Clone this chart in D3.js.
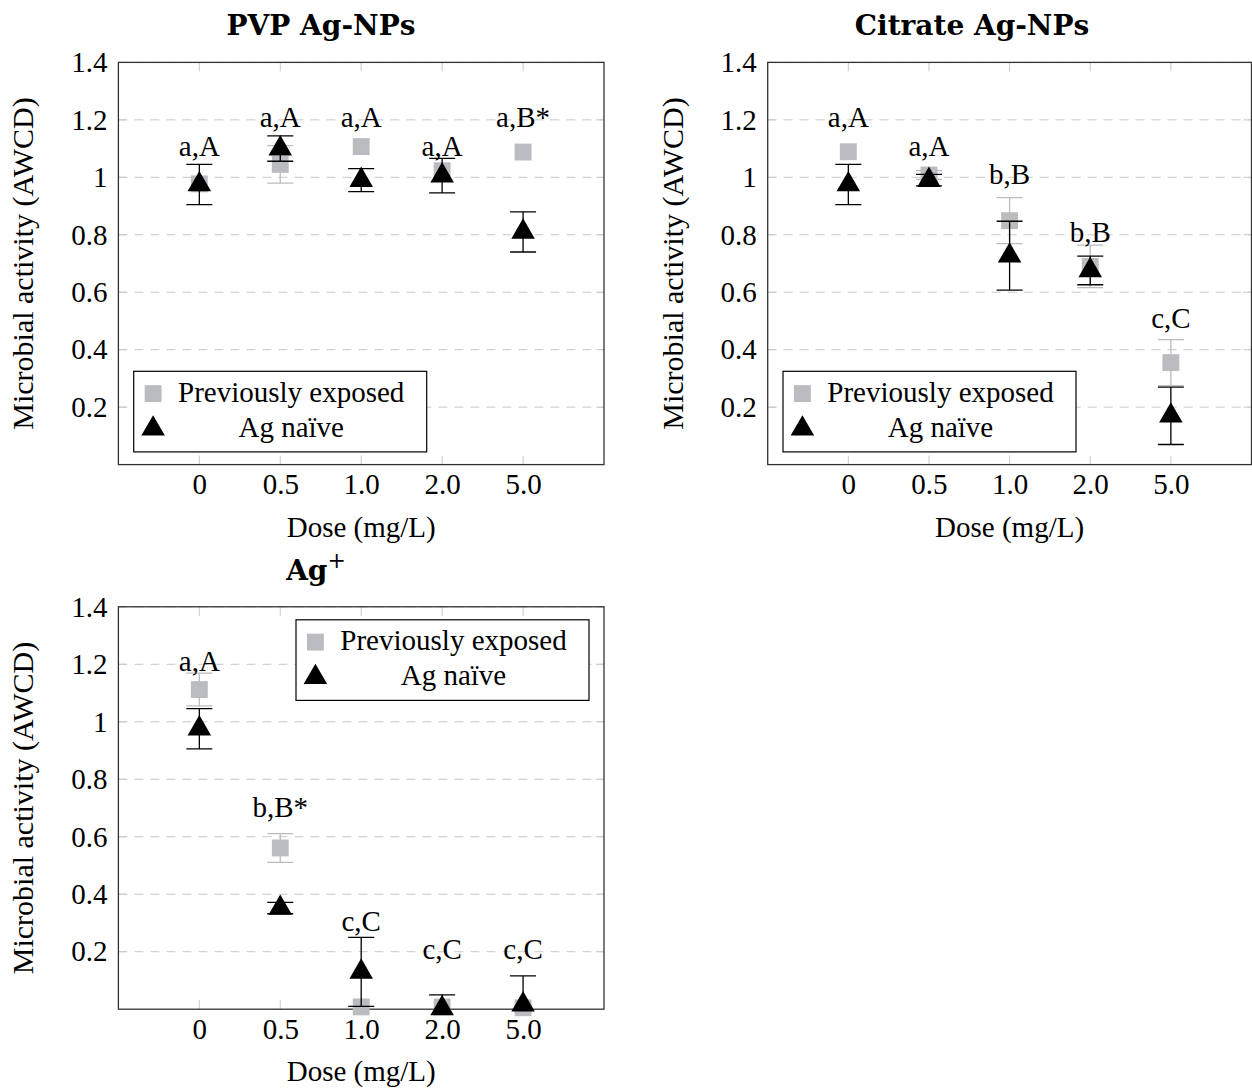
<!DOCTYPE html>
<html>
<head>
<meta charset="utf-8">
<script src="https://cdn.jsdelivr.net/npm/d3@7"></script>
<style>
  html, body { margin: 0; padding: 0; background: #fff; }
  svg { display: block; }
</style>
</head>
<body>
<svg id="chart" width="1252" height="1091"></svg>
<script>
// ---------------- DATA ----------------
const doses = ["0", "0.5", "1.0", "2.0", "5.0"];
const yTicks = [0.2, 0.4, 0.6, 0.8, 1.0, 1.2, 1.4];
const yTickLabels = ["0.2", "0.4", "0.6", "0.8", "1", "1.2", "1.4"];
const seriesNames = ["Previously exposed", "Ag naïve"];

// PVP Ag-NPs
const pvpExposed     = [0.977, 1.045, 1.107, 1.023, 1.088];
const pvpExposedErr  = [0, 0.065, 0, 0, 0];
const pvpNaive       = [0.975, 1.100, 0.990, 1.006, 0.810];
const pvpNaiveErr    = [0.07, 0.044, 0.04, 0.06, 0.07];
const pvpLabels      = ["a,A", "a,A", "a,A", "a,A", "a,B*"];
const pvpLabelY      = [1.075, 1.175, 1.175, 1.075, 1.175];

// Citrate Ag-NPs
const citExposed     = [1.089, 1.008, 0.849, 0.690, 0.355];
const citExposedErr  = [0, 0.015, 0.08, 0.074, 0.08];
const citNaive       = [0.975, 0.990, 0.727, 0.676, 0.170];
const citNaiveErr    = [0.07, 0.02, 0.12, 0.05, 0.10];
const citLabels      = ["a,A", "a,A", "b,B", "b,B", "c,C"];
const citLabelY      = [1.175, 1.075, 0.975, 0.775, 0.475];

// Ag+
const ionExposed     = [1.112, 0.561, 0.008, 0.008, 0.005];
const ionExposedErr  = [0.057, 0.05, 0, 0, 0];
const ionNaive       = [0.976, 0.352, 0.130, 0.003, 0.016];
const ionNaiveErr    = [0.07, 0.02, 0.12, 0.047, 0.10];
const ionLabels      = ["a,A", "b,B*", "c,C", "c,C", "c,C"];
const ionLabelY      = [1.175, 0.670, 0.272, 0.175, 0.175];

// ---------------- STYLE ----------------
const GRAY = "#bbbcc0";
const FS = 29;
const SERIF = "'Liberation Serif', 'Times New Roman', serif";

const svg = d3.select("#chart");
svg.append("rect").attr("width", 1252).attr("height", 1091).attr("fill", "#fff");
const defs = svg.append("defs");
let clipCount = 0;

function drawPanel(cfg) {
  const { left, right, top, bottom } = cfg;
  const g = svg.append("g").style("font-family", SERIF);
  const x = d3.scaleLinear().domain([-1, 5]).range([left, right]);
  const y = d3.scaleLinear().domain([0, 1.4]).range([bottom, top]);
  const idx = d3.range(doses.length);

  const clipId = "clip" + (clipCount++);
  defs.append("clipPath").attr("id", clipId).append("rect")
    .attr("x", left).attr("y", top).attr("width", right - left).attr("height", bottom - top);

  // grid
  g.append("g").selectAll("line").data(yTicks).join("line")
    .attr("x1", left).attr("x2", right)
    .attr("y1", d => y(d)).attr("y2", d => y(d))
    .attr("stroke", "#c9c9c9").attr("stroke-width", 1)
    .attr("stroke-dasharray", "9,7");

  // inward light ticks
  const tk = g.append("g").attr("stroke", "#c9c9c9").attr("stroke-width", 1);
  yTicks.forEach(d => {
    tk.append("line").attr("x1", left).attr("x2", left + 8).attr("y1", y(d)).attr("y2", y(d));
    tk.append("line").attr("x1", right).attr("x2", right - 8).attr("y1", y(d)).attr("y2", y(d));
  });
  idx.forEach(i => {
    tk.append("line").attr("x1", x(i)).attr("x2", x(i)).attr("y1", top).attr("y2", top + 9);
    tk.append("line").attr("x1", x(i)).attr("x2", x(i)).attr("y1", bottom).attr("y2", bottom - 9);
  });

  // axes (labels only)
  const ya = g.append("g").attr("transform", `translate(${left},0)`)
    .call(d3.axisLeft(y).tickValues(yTicks).tickFormat((d, i) => yTickLabels[i]).tickSize(0).tickPadding(11));
  ya.select(".domain").remove();
  ya.attr("font-family", null).attr("font-size", null);
  ya.selectAll("text").style("font-family", SERIF).style("font-size", FS + "px").attr("fill", "#000");

  const xa = g.append("g").attr("transform", `translate(0,${bottom})`)
    .call(d3.axisBottom(x).tickValues(idx).tickFormat(i => doses[i]).tickSize(0).tickPadding(9));
  xa.select(".domain").remove();
  xa.attr("font-family", null).attr("font-size", null);
  xa.selectAll("text").style("font-family", SERIF).style("font-size", FS + "px").attr("fill", "#000");

  // axis titles
  g.append("text").attr("x", (left + right) / 2).attr("y", bottom + 72)
    .attr("text-anchor", "middle").style("font-size", FS + "px").text("Dose (mg/L)");
  g.append("text")
    .attr("transform", `translate(${left - 85},${(top + bottom) / 2}) rotate(-90)`)
    .attr("text-anchor", "middle").style("font-size", "30px").text("Microbial activity (AWCD)");

  // title
  const t = g.append("text").attr("x", cfg.titleX).attr("y", top - 27)
    .attr("text-anchor", "middle")
    .style("font-family", "'DejaVu Serif', serif")
    .style("font-weight", "bold").style("font-size", "28px");
  t.append("tspan").text(cfg.title);
  if (cfg.titleSup) {
    t.append("tspan").style("font-weight", "normal").style("font-size", "22px")
      .attr("dy", -12).text(cfg.titleSup);
  }

  // error bar helper (clipped to the axis area)
  function errBars(vals, errs, color, width) {
    const eg = g.append("g").attr("clip-path", `url(#${clipId})`)
      .attr("stroke", color).attr("stroke-width", width).attr("fill", "none");
    idx.filter(i => errs[i] > 0).forEach(i => {
      const cx = x(i), y1 = y(vals[i] + errs[i]), y2 = y(vals[i] - errs[i]);
      eg.append("line").attr("x1", cx).attr("x2", cx).attr("y1", y1).attr("y2", y2);
      eg.append("line").attr("x1", cx - 13).attr("x2", cx + 13).attr("y1", y1).attr("y2", y1);
      eg.append("line").attr("x1", cx - 13).attr("x2", cx + 13).attr("y1", y2).attr("y2", y2);
    });
  }

  const sq = d3.symbol(d3.symbolSquare, 285);
  const tri = d3.symbol(d3.symbolTriangle, 240);

  // frame (under the marks)
  g.append("rect").attr("x", left).attr("y", top)
    .attr("width", right - left).attr("height", bottom - top)
    .attr("fill", "none").attr("stroke", "#333").attr("stroke-width", 1.3);

  // exposed series
  errBars(cfg.exposed, cfg.exposedErr, GRAY, 1.3);
  g.append("g").selectAll("path").data(idx).join("path")
    .attr("d", sq).attr("transform", i => `translate(${x(i)},${y(cfg.exposed[i])})`)
    .attr("fill", GRAY);

  // naive series
  errBars(cfg.naive, cfg.naiveErr, "#000", 1.3);
  g.append("g").selectAll("path").data(idx).join("path")
    .attr("d", tri).attr("transform", i => `translate(${x(i)},${y(cfg.naive[i])})`)
    .attr("fill", "#000");

  // annotations
  g.append("g").selectAll("text").data(idx).join("text")
    .attr("x", i => x(i)).attr("y", i => y(cfg.labelY[i]))
    .attr("text-anchor", "middle").style("font-size", FS + "px")
    .text(i => cfg.labels[i]);

  // legend
  const lw = 293, lh = 80.6;
  const lx = cfg.legendPos === "tr" ? right - 15 - lw : left + 15.3;
  const ly = cfg.legendPos === "tr" ? top + 13 : bottom - 12.7 - lh;
  const lg = g.append("g").attr("transform", `translate(${lx},${ly})`);
  lg.append("rect").attr("width", lw).attr("height", lh)
    .attr("fill", "#fff").attr("stroke", "#000").attr("stroke-width", 1.2);
  lg.append("path").attr("d", sq).attr("transform", "translate(19.4,22.3)").attr("fill", GRAY);
  lg.append("path").attr("d", tri).attr("transform", "translate(19.4,57.5)").attr("fill", "#000");
  lg.append("text").attr("x", 157.5).attr("y", 30.5).attr("text-anchor", "middle")
    .style("font-size", FS + "px").text(seriesNames[0]);
  lg.append("text").attr("x", 157.5).attr("y", 65.5).attr("text-anchor", "middle")
    .style("font-size", FS + "px").text(seriesNames[1]);
}

drawPanel({
  left: 118.4, right: 604, top: 62.4, bottom: 464.6,
  title: "PVP Ag-NPs", titleX: 321,
  exposed: pvpExposed, exposedErr: pvpExposedErr,
  naive: pvpNaive, naiveErr: pvpNaiveErr,
  labels: pvpLabels, labelY: pvpLabelY, legendPos: "bl"
});
drawPanel({
  left: 767.7, right: 1251.5, top: 62.4, bottom: 464.6,
  title: "Citrate Ag-NPs", titleX: 972,
  exposed: citExposed, exposedErr: citExposedErr,
  naive: citNaive, naiveErr: citNaiveErr,
  labels: citLabels, labelY: citLabelY, legendPos: "bl"
});
drawPanel({
  left: 118.4, right: 604, top: 606.8, bottom: 1009.2,
  title: "Ag", titleSup: "+", titleX: 316,
  exposed: ionExposed, exposedErr: ionExposedErr,
  naive: ionNaive, naiveErr: ionNaiveErr,
  labels: ionLabels, labelY: ionLabelY, legendPos: "tr"
});
</script>
</body>
</html>
